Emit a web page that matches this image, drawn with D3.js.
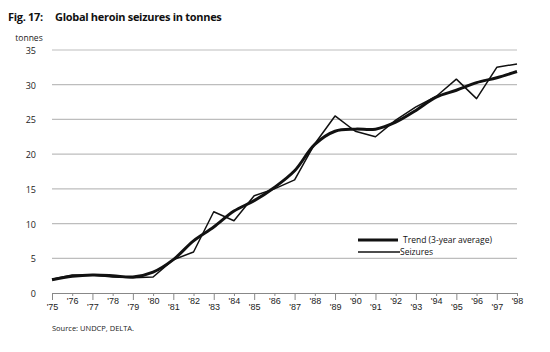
<!DOCTYPE html>
<html>
<head>
<meta charset="utf-8">
<script src="https://cdn.jsdelivr.net/npm/d3@7"></script>
<style>
  body { margin: 0; background: #fff; }
  svg { font-family: "Open Sans", "Noto Sans", sans-serif; }
  .grid line { stroke: #bdbdbd; stroke-width: 1.2; }
  .xaxis path, .xaxis line { stroke: #888; stroke-width: 1; }
  .xaxis text, .yaxis text { font-size: 9px; fill: #222; }
</style>
</head>
<body>
<svg id="chart" width="550" height="352"></svg>
<script>
const years = d3.range(1975, 1999);
const seizures = [2.0, 2.6, 2.6, 2.3, 2.2, 2.3, 4.8, 5.9, 11.7, 10.4, 14.0, 15.0, 16.3, 21.5, 25.5, 23.3, 22.5, 24.9, 26.8, 28.3, 30.8, 28.0, 32.5, 33.0];
const trend = [1.9, 2.4, 2.6, 2.5, 2.3, 3.0, 4.8, 7.5, 9.5, 11.8, 13.3, 15.2, 17.6, 21.4, 23.3, 23.6, 23.6, 24.6, 26.3, 28.2, 29.2, 30.3, 31.0, 31.9];
const yTicks = [0, 5, 10, 15, 20, 25, 30, 35];

const svg = d3.select("#chart");

const x = d3.scaleLinear().domain([1975, 1998]).range([52, 517]);
const y = d3.scaleLinear().domain([0, 35]).range([293, 50]);

// title
svg.append("text")
    .attr("x", 8).attr("y", 21)
    .style("font-size", "11px").style("font-weight", "bold").style("fill", "#111")
    .style("letter-spacing", "-0.3px")
    .text("Fig. 17:");
svg.append("text")
    .attr("x", 55).attr("y", 21)
    .style("font-size", "11px").style("font-weight", "bold").style("fill", "#111")
    .style("letter-spacing", "-0.3px")
    .text("Global heroin seizures in tonnes");

svg.append("text")
    .attr("x", 29).attr("y", 41)
    .attr("text-anchor", "middle")
    .style("font-size", "8.5px").style("fill", "#222")
    .text("tonnes");

// gridlines
svg.append("g")
    .attr("class", "grid")
    .selectAll("line")
    .data(yTicks.filter(d => d > 0))
    .enter()
    .append("line")
    .attr("x1", x(1975))
    .attr("x2", x(1998))
    .attr("y1", d => y(d))
    .attr("y2", d => y(d));

// y labels
svg.append("g")
    .attr("class", "yaxis")
    .selectAll("text")
    .data(yTicks)
    .enter()
    .append("text")
    .attr("x", 36)
    .attr("y", d => y(d) + 4)
    .attr("text-anchor", "end")
    .text(d => d);

// x axis
const xAxis = svg.append("g")
    .attr("class", "xaxis")
    .attr("transform", `translate(0,${y(0)})`)
    .call(d3.axisBottom(x)
        .tickValues(years)
        .tickSizeOuter(0)
        .tickFormat(d => "'" + String(d).slice(2)));

xAxis.selectAll(".tick line")
    .attr("y2", d => d % 2 === 1 ? 7 : 3);
xAxis.selectAll(".tick text")
    .attr("y", d => d % 2 === 1 ? 11 : 5)
    .attr("dy", "0.71em");

// lines
const line = d3.line()
    .x((d, i) => x(years[i]))
    .y(d => y(d));

svg.append("path")
    .datum(seizures)
    .attr("fill", "none")
    .attr("stroke", "#111")
    .attr("stroke-width", 1.5)
    .attr("stroke-linejoin", "round")
    .attr("d", line);

svg.append("path")
    .datum(trend)
    .attr("fill", "none")
    .attr("stroke", "#111")
    .attr("stroke-width", 3)
    .attr("stroke-linejoin", "round")
    .attr("d", line.curve(d3.curveCatmullRom));

// legend
const legend = svg.append("g").attr("transform", "translate(358,240)");
legend.append("line")
    .attr("x1", 0).attr("x2", 40).attr("y1", 0).attr("y2", 0)
    .attr("stroke", "#111").attr("stroke-width", 3);
legend.append("text")
    .attr("x", 45).attr("y", 3)
    .style("font-size", "8.5px").style("fill", "#111")
    .text("Trend (3-year average)");
legend.append("line")
    .attr("x1", 0).attr("x2", 42).attr("y1", 12).attr("y2", 12)
    .attr("stroke", "#111").attr("stroke-width", 1.5);
legend.append("text")
    .attr("x", 42).attr("y", 15)
    .style("font-size", "8.5px").style("fill", "#111")
    .text("Seizures");

// source
svg.append("text")
    .attr("x", 52).attr("y", 331)
    .style("font-size", "7.5px").style("fill", "#222")
    .text("Source: UNDCP, DELTA.");
</script>
</body>
</html>
